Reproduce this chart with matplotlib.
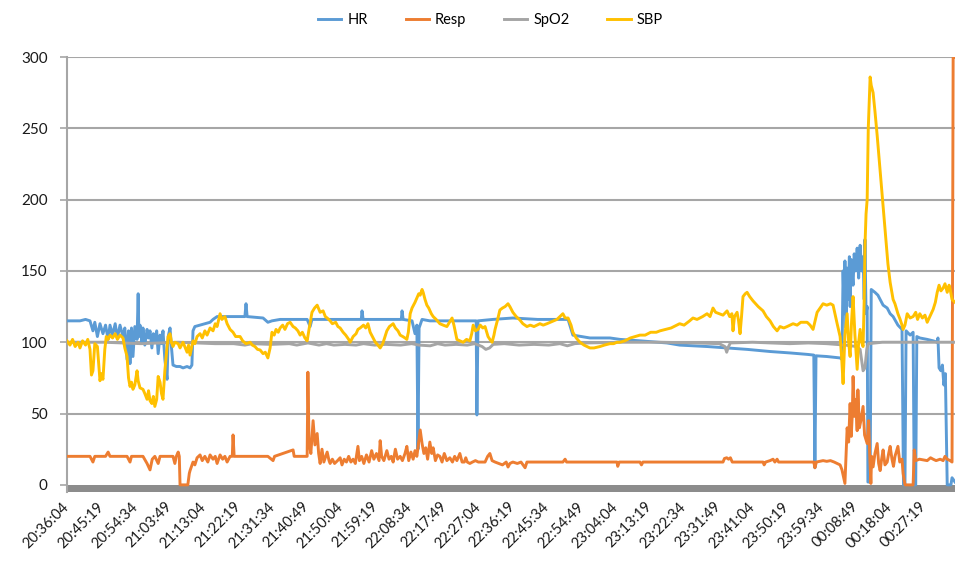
import matplotlib.pyplot as plt

plt.rcParams['font.family'] = ['Lato', 'DejaVu Sans']

# minutes after 20:36:04 and the value
hr_t = [0, 3.5, 5.0, 6.2, 7.0, 7.5, 8.2, 8.9, 9.7, 10.4, 11.1, 11.6, 12.3, 13.0, 13.6, 14.3, 15.1, 15.6,
        16.2, 16.6, 17.0, 17.4, 17.8, 18.3, 18.9, 19.2, 19.4, 19.7, 20.2, 20.5, 21.0, 21.6, 22.0, 22.4,
        22.9, 23.3, 23.7, 24.2, 24.6, 25.1, 25.5, 25.9, 26.4, 27.0, 27.3, 27.8, 28.2, 28.6, 29.5, 30.5,
        31.3, 32.4, 33.2, 33.7, 34.0, 34.5, 35.9, 37.2, 38.6, 39.4, 40.5, 44.0, 48.0, 48.3, 48.6, 52.9,
        54.2, 55.3, 57.5, 62.9, 64.8, 65.6, 66.1, 70.2, 76.4, 79.4, 79.6, 79.9, 86.3, 90.2, 90.4, 90.7,
        93.1, 93.9, 94.4, 94.7, 95.0, 95.8, 97.9, 100.6, 105.2, 110.4, 110.6, 110.9, 114.9, 120.3, 127,
        135.2, 136.5, 141.1, 146.5, 149.2, 154.6, 161.9, 165.3, 172.7, 178.1, 183.5, 189.7, 195.1, 199.7,
        201.5, 201.8, 202.1, 205, 208.6, 209.1, 209.4, 209.7, 209.9, 210.2, 210.5, 210.8, 211.1, 211.3,
        211.6, 212.1, 212.4, 212.8, 213.2, 213.6, 214.0, 214.4, 214.8, 215.1, 215.3, 215.6, 215.9, 216.1,
        216.7, 217.0, 218.0, 218.8, 219.4, 220.2, 221.3, 222.1, 222.9, 224.2, 225.3, 225.7, 226.1, 226.4,
        227.5, 228.3, 228.6, 229.0, 229.3, 230.1, 232.1, 233.7, 234.8, 235.0, 235.3, 235.8, 236.2, 236.6,
        237.0, 237.5, 238.5, 238.8, 239.6]
hr = [115, 115, 116, 115, 108, 114, 104, 113, 106, 112, 102, 112, 105, 113, 103, 112, 104, 110,
      88, 108, 85, 110, 90, 111, 102, 134, 104, 112, 100, 110, 98, 109, 103, 108,
      96, 106, 100, 108, 92, 105, 99, 108, 88, 74, 104, 110, 96, 84, 83, 83,
      82, 83, 82, 84, 108, 111, 112, 113, 114, 116, 118, 118, 118, 127, 118, 117,
      114, 115, 116, 116, 116, 111, 116, 116, 116, 116, 122, 116, 116, 116, 122, 116,
      115, 106, 112, 25, 110, 116, 115, 115, 115, 115, 49, 115, 116, 117, 116,
      116, 105, 103, 103, 102, 101, 99.5, 98, 97, 96, 95, 93.5, 92.5, 91.5,
      91, 12, 90.5, 90, 89, 88, 150, 120, 157, 110, 152, 130, 160, 125,
      158, 140, 162, 150, 166, 145, 168, 150, 160, 130, 172, 120, 125, 2,
      2, 137, 135, 133, 130, 126, 124, 120, 118, 112, 109, 0, 0, 108,
      105, 107, 0, 0, 104, 103, 102, 101, 100, 103, 82, 80, 84, 70,
      78, 0, 0, 5, 2]

resp_t = [0, 3.5, 6.2, 7.0, 7.5, 10.4, 11.1, 11.6, 16.2, 17.0, 17.4, 20.5, 21.6, 22.4, 23.0, 23.7, 24.6,
          25.1, 28.6, 29.1, 29.5, 30.0, 30.3, 30.5, 32.6, 33.0, 33.2, 34.0, 34.5, 35.1, 35.9, 36.5, 37.2,
          38.0, 38.6, 39.4, 40.0, 40.5, 41.3, 42.0, 42.6, 43.2, 44.0, 44.6, 44.8, 45.1, 46.7, 48.3, 50.7,
          54.2, 55.6, 56.0, 61.0, 61.3, 64.8, 65.0, 65.3, 65.8, 66.4, 66.9, 67.5, 67.9, 68.3, 68.8, 69.3,
          70.2, 70.7, 71.0, 71.6, 72.2, 73.0, 73.7, 74.2, 74.8, 75.4, 76.0, 76.6, 77.2, 77.8, 78.5, 78.9,
          79.5, 80.1, 80.8, 81.5, 82.2, 82.8, 83.5, 84.2, 84.5, 84.9, 85.5, 86.3, 86.9, 87.5, 88.0, 88.6,
          89.2, 89.9, 90.5, 91.2, 91.7, 92.2, 92.8, 93.4, 93.9, 94.4, 94.9, 95.3, 95.8, 96.3, 96.8, 97.3,
          97.9, 98.4, 98.8, 99.4, 100.0, 100.6, 101.2, 101.8, 102.5, 103.3, 104.0, 104.6, 105.2, 106.0,
          106.6, 107.2, 107.6, 108.0, 108.7, 109.4, 110.2, 111.0, 112.8, 113.5, 114.1, 114.7, 115.5, 116.5,
          117.5, 118.5, 119.0, 119.5, 120.3, 121.5, 122.5, 123.6, 124.1, 130, 133.8, 134.4, 134.8, 140,
          148.4, 148.6, 149.0, 154.6, 155.0, 155.4, 165, 177, 177.4, 178.0, 178.5, 179, 179.5, 185, 187.8,
          188.1, 188.5, 189.7, 190.5, 191.0, 191.6, 192.0, 199.7, 201.5, 201.8, 202.2, 204.0, 205.0, 206.0,
          207, 207.8, 208.6, 209.1, 209.9, 210.2, 210.5, 210.9, 211.3, 211.6, 211.9, 212.1, 212.5, 212.8,
          213.2, 213.4, 213.8, 214.2, 214.8, 215.2, 215.9, 216.3, 216.6, 216.9, 217.1, 217.5, 218.0, 218.6,
          219.0, 219.4, 219.8, 220.2, 220.7, 221.3, 221.7, 222.1, 222.6, 223.0, 223.4, 224.2, 224.7, 225.3,
          225.6, 226.1, 228.3, 228.6, 229.0, 230, 232.1, 233.0, 233.7, 234.5, 235.6, 236.4, 236.9, 237.5,
          238.3, 238.8, 239.1, 239.6]
resp = [20, 20, 20, 16, 20, 20, 23, 20, 20, 16, 20, 20, 15, 10.5, 18, 20, 15,
        20, 20, 15, 20, 23, 20, 0, 0, 8, 10, 16, 14, 19, 21, 17, 20,
        16, 21, 18, 20, 15, 21, 18, 20, 16, 20, 20, 35, 20, 20, 20, 20,
        20, 17, 20, 24.5, 20, 20, 79, 30, 22, 45, 28, 36, 22, 15, 25, 16,
        23, 17, 15, 18, 15, 17, 19, 14, 18, 16, 20, 16, 18, 15, 27, 17,
        20, 15, 21, 16, 24, 18, 22, 17, 31, 20, 17, 24, 18, 20, 16, 25,
        18, 20, 17, 22, 27, 17, 23, 18, 24, 20, 30, 38.5, 29, 22, 26, 18,
        30, 22, 26, 17, 21, 20, 16, 22, 17, 19, 16, 20, 17, 22,
        16, 16, 19, 16, 15, 16, 17, 16, 16, 20, 22, 17, 16, 15,
        14, 16, 12.5, 15, 16, 15, 16, 12, 16, 16, 16, 18, 16, 16,
        16, 13, 16, 16, 14, 16, 16, 16, 18.5, 19, 18, 19, 16, 16, 16,
        14, 16, 17, 18, 16, 18, 16, 16, 16, 12, 16, 17, 16.5, 17,
        16, 15, 14, 10.6, 1, 20, 40, 30, 57, 34, 50, 76, 48, 60,
        38, 66.6, 40, 45, 55, 35, 29, 45, 20, 1, 20, 12.6, 22, 29,
        15, 10, 18, 24.5, 14, 16, 22, 27, 18, 13, 20, 27, 16, 18,
        8, 0, 0, 24.5, 17, 18, 17, 19, 18, 17, 18, 17, 20, 18,
        17, 16, 300, 300]

spo2_t = [0, 10, 20, 30, 40, 45, 48, 50, 55, 60, 62, 65, 68, 70, 72, 75, 78, 80, 83, 86, 90, 93, 95,
          98, 100, 102, 105, 108, 110, 112, 113, 114, 115, 118, 122, 126, 130, 133, 135, 137, 140, 150,
          160, 170, 176, 177.5, 178, 178.5, 179, 185, 190, 195, 200, 205, 210, 213, 214, 214.8, 215.3,
          215.8, 216.2, 220, 230, 239.6]
spo2 = [100, 100, 99, 100, 99, 99, 98, 99, 98.5, 99, 98, 99.5, 98, 99, 98, 98.5, 98, 99, 98, 98.5, 98, 99, 98,
        97.5, 99, 98, 98.5, 98, 99, 97, 95, 96, 98.5, 99, 98, 98.5, 98, 99, 97.5, 99, 99.5, 100,
        100, 99.5, 99, 97, 93, 97, 99.5, 100, 99.5, 99, 99.5, 99, 98, 97, 95, 80, 82,
        95, 99, 100, 100, 100]

sbp_t = [0, 0.8, 1.5, 2.2, 3.0, 3.5, 4.2, 5.0, 5.6, 6.2, 6.6, 7.0, 7.5, 8.2, 8.9, 9.3, 9.7, 10.2, 10.6,
         11.1, 11.6, 12.3, 13.0, 13.6, 14.3, 15.1, 15.6, 16.2, 16.6, 17.0, 17.4, 17.8, 18.3, 18.9, 19.2,
         19.7, 20.5, 21.0, 21.6, 22.0, 22.4, 22.9, 23.3, 23.7, 24.2, 24.6, 25.1, 25.5, 25.9, 26.4, 27.0,
         27.3, 27.8, 28.2, 28.6, 29.1, 30.0, 30.5, 31.3, 32.4, 32.8, 33.2, 34.0, 34.5, 35.1, 35.9, 36.5,
         37.2, 37.8, 38.6, 39.4, 40.0, 40.5, 41.3, 41.8, 42.6, 43.2, 44.0, 44.8, 45.5, 46.7, 47.4, 48.3,
         49.4, 50.0, 50.7, 51.4, 52.1, 52.9, 53.5, 54.2, 54.8, 55.3, 55.9, 56.4, 57.0, 57.5, 58.2, 58.8,
         59.5, 60.2, 61.0, 61.6, 62.3, 62.9, 63.5, 64.2, 64.8, 65.3, 66.1, 66.8, 67.5, 68.3, 69.1, 69.7,
         70.2, 71.0, 71.6, 72.5, 73.1, 73.7, 74.5, 75.2, 76.0, 76.4, 77.2, 78.0, 78.5, 79.1, 80.0, 80.6,
         81.2, 81.8, 82.6, 83.2, 83.9, 84.5, 85.2, 85.8, 86.3, 87.0, 88.0, 88.6, 89.3, 89.9, 90.6, 91.2,
         91.7, 92.1, 92.6, 93.1, 93.9, 94.4, 94.9, 95.3, 95.8, 96.1, 96.6, 97.1, 97.6, 98.3, 98.8, 99.6,
         100.6, 101.5, 102.5, 103.2, 103.9, 104.4, 105.2, 106.0, 106.9, 107.8, 108.7, 109.2, 109.6, 110.2,
         110.9, 111.5, 112.2, 112.8, 113.6, 114.1, 114.7, 115.2, 115.5, 116.2, 116.8, 117.5, 118.2, 119.0,
         119.5, 120.3, 121.2, 122.2, 123.0, 124.1, 125.0, 126.0, 126.8, 127.6, 128.5, 129.5, 130.4, 131.3,
         132.2, 133.0, 133.8, 134.4, 135.2, 136.0, 136.5, 137.4, 138.4, 139.5, 141.1, 142.2, 143.8, 145.0,
         146.5, 147.5, 148.4, 149.2, 150.5, 152, 154.6, 156, 157.5, 159, 160.0, 161.5, 163, 165.3, 166.5,
         168, 168.9, 170, 171.5, 172.7, 173.5, 174.3, 175, 176, 177.0, 178.1, 178.8, 179.4, 179.7, 180.1,
         180.8, 181.2, 181.6, 182.0, 182.4, 183.0, 183.5, 184.2, 185.1, 186.5, 187.8, 188.7, 189.7, 190.6,
         191.6, 192.4, 193.4, 194.3, 195.1, 195.9, 197, 198, 199.7, 200.5, 201.3, 202.4, 203.2, 204.0,
         205.0, 206, 206.7, 207.2, 207.8, 208.6, 209.0, 209.4, 209.9, 210.5, 210.9, 211.3, 211.7, 212.1,
         212.6, 213.2, 213.6, 214.0, 214.4, 214.8, 215.1, 215.3, 215.6, 215.9, 216.2, 216.7, 217.0, 217.5,
         218.0, 218.6, 219.4, 220.2, 221.0, 221.5, 222.1, 222.9, 223.4, 224.2, 224.8, 225.3, 225.6, 226.1,
         226.7, 227.5, 228.3, 229, 229.5, 230.1, 230.8, 231.5, 232.1, 232.8, 233.7, 234.3, 234.8, 235.3,
         235.8, 236.4, 236.9, 237.5, 238.0, 238.3, 238.8, 239.6]
sbp = [101, 98, 102, 97, 100, 96, 101, 98, 102, 95, 77, 80, 99, 97, 73, 78, 74, 95, 104,
       102, 105, 103, 106, 102, 105, 103, 96, 90, 75, 69, 72, 67, 70, 80, 73,
       68, 67, 64, 60, 66, 59, 57, 62, 55, 60, 76, 72, 64, 60, 80, 97,
       104, 106, 100, 97, 100, 99, 96, 100, 93, 98, 91, 101, 99, 104, 106, 103,
       108, 105, 110, 108, 113, 111, 120, 116, 118, 113, 109, 107, 104, 104, 101, 99,
       100, 98, 97, 95, 94.6, 92, 93, 89, 96, 107, 105, 109, 107, 110, 112, 109,
       113, 114, 111, 110, 108, 105, 107, 103, 101, 109, 121, 124, 126, 121, 122, 118,
       117, 115, 113, 114, 111, 110, 107, 105, 102, 100, 104, 106, 109, 110, 112, 110,
       113, 107, 103, 100, 98, 96, 99, 104, 108, 111, 113, 110, 108, 105, 104, 103,
       102, 107, 120, 124, 128, 131, 134, 133, 137, 135, 130, 126, 124, 120, 118, 116,
       113, 112, 111, 114, 117, 112, 102, 101, 100, 102, 101, 106, 112, 108,
       109, 112, 110, 111, 104, 102, 100, 105, 109, 116, 122.6, 124, 125, 127,
       125, 121, 118, 115.6, 113, 111, 112, 111, 112, 113, 112, 113, 114, 115,
       116, 118, 120, 117, 117, 112, 107, 103, 100, 98, 96, 96, 97, 98,
       99, 99, 100, 100, 101, 103, 105, 105, 107, 107, 108, 109, 110, 113, 112,
       115, 117, 116, 118, 120, 118, 124, 121, 120, 119, 122, 118, 120, 108, 118,
       121, 115, 106, 118, 132, 134, 135, 132, 129, 125, 122, 118, 115, 111,
       108, 111, 110, 111, 112, 113, 112, 114, 114, 112, 109, 121, 124, 127,
       126, 127, 126, 120, 113, 104, 90, 71, 105, 120, 100, 90, 115, 132,
       105, 81, 100, 109, 100, 97, 130, 167, 190, 200, 250, 286, 280, 275,
       262, 245, 220, 195, 170, 155, 142, 130, 127, 120, 116, 112, 109, 112,
       120, 117, 118, 121, 116, 120, 117, 119, 114, 118, 123, 128, 135, 140,
       136, 138, 141, 135, 140, 137, 130, 128]

tick_labels = ['20:36:04', '20:45:19', '20:54:34', '21:03:49', '21:13:04', '21:22:19', '21:31:34',
               '21:40:49', '21:50:04', '21:59:19', '22:08:34', '22:17:49', '22:27:04', '22:36:19',
               '22:45:34', '22:54:49', '23:04:04', '23:13:19', '23:22:34', '23:31:49', '23:41:04',
               '23:50:19', '23:59:34', '00:08:49', '00:18:04', '00:27:19']
tick_pos = [9.25 * i for i in range(len(tick_labels))]

fig = plt.figure(figsize=(9.56, 5.65), dpi=100)
ax = fig.add_axes([67 / 956, 73 / 565, 888 / 956, 435 / 565])

lw = 2.1
ax.plot(hr_t, hr, color='#5B9BD5', lw=lw, label='HR', zorder=3)
ax.plot(resp_t, resp, color='#ED7D31', lw=lw, label='Resp', zorder=4)
ax.plot(spo2_t, spo2, color='#A5A5A5', lw=lw, label='SpO2', zorder=5)
ax.plot(sbp_t, sbp, color='#FFC000', lw=lw, label='SBP', zorder=6)

ax.set_xlim(0, 239.6)
ax.set_ylim(-5, 300)
ax.set_yticks([0, 50, 100, 150, 200, 250, 300])
for y in [50, 100, 150, 200, 250, 300]:
    ax.axhline(y, color='#a6a6a6', lw=1.5, zorder=1)
ax.axhspan(-5, 0, color='#8c8c8c', lw=0, zorder=2)

ax.set_xticks(tick_pos)
ax.set_xticklabels(tick_labels, rotation=45, ha='right', va='center', rotation_mode='anchor')
ax.tick_params(axis='x', length=0, pad=9, labelsize=10.5, labelcolor='#1a1a1a')
ax.tick_params(axis='y', length=5, width=1.2, color='#a6a6a6', pad=9, labelsize=11,
               labelcolor='#1a1a1a')

for s in ['top', 'right', 'bottom']:
    ax.spines[s].set_visible(False)
ax.spines['left'].set_color('#a6a6a6')
ax.spines['left'].set_linewidth(1.5)

fig.legend(loc='upper center', bbox_to_anchor=(0.513, 1.0), ncol=4, frameon=False,
           fontsize=10.5, handlelength=1.6, handletextpad=0.4, columnspacing=2.6)

plt.savefig('out.png', dpi=100)
